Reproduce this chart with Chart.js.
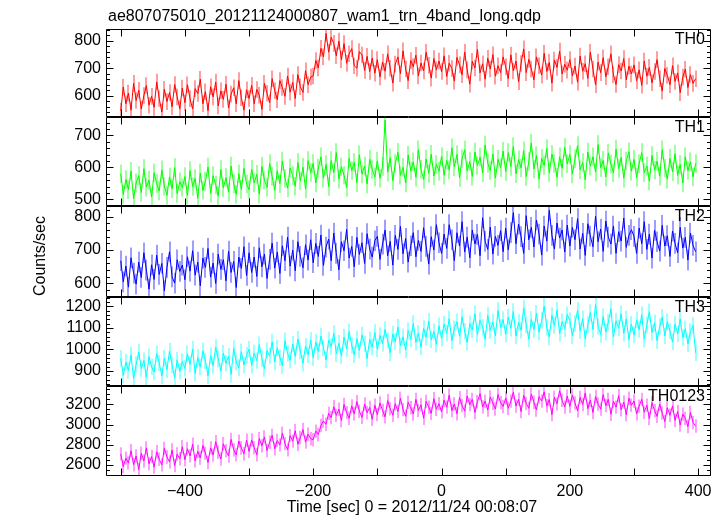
<!DOCTYPE html>
<html><head><meta charset="utf-8">
<script src="https://cdn.jsdelivr.net/npm/chart.js@4.4.1/dist/chart.umd.min.js"></script>
<style>
html,body{margin:0;padding:0;background:#fff;}
#wrap{position:relative;width:724px;height:516px;overflow:hidden;background:#fff;}
.layer{position:absolute;left:0;top:0;width:724px;height:516px;}
</style></head><body>
<div id="wrap"></div>
<script>
const plotTitle = "ae807075010_20121124000807_wam1_trn_4band_long.qdp";
const xAxisLabel = "Time [sec] 0 = 2012/11/24 00:08:07";
const yAxisLabel = "Counts/sec";
const bandNames = ["TH0", "TH1", "TH2", "TH3", "TH0123"];

const timeBins = [
-500,-496,-492,-488,-484,-480,-476,-472,-468,-464,-460,-456,-452,-448,-444,-440,-436,-432,-428,-424,-420,-416,-412,-408,-404,
-400,-396,-392,-388,-384,-380,-376,-372,-368,-364,-360,-356,-352,-348,-344,-340,-336,-332,-328,-324,-320,-316,-312,-308,-304,
-300,-296,-292,-288,-284,-280,-276,-272,-268,-264,-260,-256,-252,-248,-244,-240,-236,-232,-228,-224,-220,-216,-212,-208,-204,
-200,-196,-192,-188,-184,-180,-176,-172,-168,-164,-160,-156,-152,-148,-144,-140,-136,-132,-128,-124,-120,-116,-112,-108,-104,
-100,-96,-92,-88,-84,-80,-76,-72,-68,-64,-60,-56,-52,-48,-44,-40,-36,-32,-28,-24,-20,-16,-12,-8,-4,
0,4,8,12,16,20,24,28,32,36,40,44,48,52,56,60,64,68,72,76,80,84,88,92,96,
100,104,108,112,116,120,124,128,132,136,140,144,148,152,156,160,164,168,172,176,180,184,188,192,196,
200,204,208,212,216,220,224,228,232,236,240,244,248,252,256,260,264,268,272,276,280,284,288,292,296,
300,304,308,312,316,320,324,328,332,336,340,344,348,352,356,360,364,368,372,376,380,384,388,392,396
];

const th0 = [
545,632,571,610,548,645,583,620,552,601,637,566,598,558,650,590,541,624,579,612,560,641,596,553,628,
575,640,589,552,626,608,660,571,615,546,633,596,650,563,618,587,642,556,606,629,571,655,593,548,622,
590,638,571,623,602,551,645,609,575,662,618,586,655,630,598,672,613,648,590,677,633,612,691,640,668,
672,728,701,772,741,826,758,812,790,745,798,731,789,718,752,771,709,700,760,748,692,743,688,737,682,
731,668,722,689,752,700,646,715,741,680,763,697,655,728,706,747,672,719,690,758,711,664,735,694,726,
688,745,670,718,699,653,739,712,676,758,694,642,725,701,768,683,716,660,736,697,749,671,709,684,741,
705,662,748,690,726,651,717,770,684,732,697,658,741,709,675,754,688,721,646,730,703,762,679,714,693,
731,672,708,649,744,689,716,663,758,697,640,722,684,738,669,705,752,676,641,713,690,735,658,707,679,
712,655,694,638,726,671,703,647,688,731,662,617,699,674,640,709,652,683,611,668,696,630,677,645,662
];
const th1 = [
580,515,562,530,588,502,551,574,521,596,538,560,507,583,549,526,592,541,512,570,533,599,518,555,537,
571,512,590,540,565,503,582,528,556,601,519,574,545,510,593,536,568,522,604,549,515,580,531,597,548,
530,594,551,578,516,603,560,537,612,571,528,589,549,620,566,535,598,574,541,615,558,600,532,621,584,
612,551,598,633,566,609,540,621,584,646,563,602,575,537,628,590,615,552,639,579,604,548,625,593,570,
620,566,603,748,585,630,558,612,647,575,600,551,638,589,617,569,655,594,562,626,581,641,573,609,588,
634,575,622,592,661,601,640,568,627,655,589,618,571,648,606,632,583,670,613,590,642,566,625,599,651,
587,646,603,665,580,624,598,652,571,618,676,595,637,563,628,606,659,584,641,612,569,633,597,662,611,
640,579,627,668,592,615,561,648,604,633,585,671,599,622,570,645,610,583,657,596,631,566,620,649,588,
625,569,611,646,583,604,557,637,591,619,572,655,598,563,628,586,642,575,609,551,633,590,617,570,612
];
const th2 = [
668,605,652,589,677,631,598,664,618,692,640,583,656,612,685,627,660,578,648,695,620,601,671,636,655,
611,680,637,698,625,664,593,676,648,705,619,661,600,688,642,671,608,697,633,666,588,679,645,710,624,
692,633,679,621,707,650,688,615,672,721,646,694,630,713,668,739,652,700,638,725,681,647,716,670,731,
662,720,681,745,654,709,733,668,751,690,641,725,698,762,676,711,650,738,687,722,660,749,703,679,728,
741,672,718,760,683,726,655,744,702,771,689,735,664,713,752,680,729,696,767,711,658,740,700,776,722,
690,748,705,776,731,668,752,712,785,694,739,677,760,718,747,683,797,726,702,769,688,741,714,758,695,
766,701,752,812,719,778,740,690,803,731,768,709,790,748,685,772,727,819,744,703,781,736,760,694,775,
712,768,731,794,703,750,684,779,742,710,801,725,763,696,787,739,718,772,690,755,727,796,708,744,761,
741,690,766,719,785,702,748,676,759,725,697,774,712,743,681,757,720,692,768,706,738,670,751,714,695
];
const th3 = [
958,880,941,902,975,866,930,989,911,948,872,966,920,895,981,937,877,959,906,992,928,869,952,899,944,
912,980,931,1002,889,963,918,994,947,878,971,925,1010,956,899,983,936,969,884,1005,942,915,990,928,974,
1001,926,984,948,1022,957,911,995,970,1035,942,1008,963,925,1041,981,950,1026,968,1048,993,936,1017,975,1043,
962,1035,990,1062,1008,951,1044,1013,1075,981,1029,970,1058,1004,1083,1019,975,1050,996,1068,1027,958,1046,1011,1079,
1002,1065,1027,1093,1041,985,1072,1036,1104,1018,1059,997,1087,1049,1121,1033,1076,1011,1098,1057,1132,1045,1083,1024,1110,
1052,1118,1076,1143,1040,1097,1129,1061,1152,1085,1033,1120,1091,1166,1070,1135,1104,1048,1158,1088,1127,1064,1181,1102,1139,
1071,1150,1098,1177,1062,1126,1089,1193,1115,1048,1140,1093,1168,1080,1135,1201,1102,1057,1158,1111,1183,1074,1129,1096,1162,
1135,1064,1121,1182,1087,1143,1050,1116,1171,1093,1208,1108,1069,1152,1081,1127,1189,1058,1133,1099,1166,1075,1142,1046,1118,
1067,1138,1092,1161,1048,1115,1176,1079,1124,1041,1107,1150,1063,1129,1085,1034,1118,1072,1142,1055,1096,1026,1083,1112,985
];
const th0123 = [
2710,2585,2668,2621,2742,2603,2690,2555,2716,2640,2770,2612,2684,2579,2731,2657,2602,2765,2680,2631,2748,2594,2709,2662,2780,
2652,2761,2690,2805,2641,2735,2670,2792,2718,2625,2770,2698,2831,2727,2660,2810,2741,2689,2853,2750,2701,2836,2768,2712,2845,
2735,2848,2772,2702,2861,2790,2878,2744,2825,2893,2760,2842,2799,2915,2811,2750,2890,2836,2938,2805,2872,2951,2826,2905,2860,
2850,2935,2902,2990,3035,3002,3110,3068,3175,3090,3151,3040,3198,3117,3062,3184,3105,3226,3131,3070,3202,3116,3168,3051,3190,
3098,3212,3140,3075,3236,3155,3092,3205,3128,3260,3147,3081,3219,3166,3104,3248,3139,3195,3062,3228,3171,3110,3255,3150,3206,
3125,3240,3171,3290,3138,3202,3106,3265,3188,3132,3281,3196,3247,3119,3225,3305,3174,3230,3142,3272,3209,3153,3296,3216,3178,
3262,3160,3231,3318,3182,3250,3127,3289,3208,3160,3301,3219,3143,3274,3232,3322,3185,3246,3098,3268,3205,3334,3238,3172,3280,
3180,3291,3214,3135,3267,3198,3310,3157,3240,3118,3276,3203,3152,3295,3186,3248,3101,3230,3171,3284,3145,3222,3097,3259,3190,
3232,3105,3181,3248,3121,3190,3058,3215,3136,3080,3202,3112,3030,3165,3091,3184,3040,3128,2995,3102,3061,2980,3118,3020,2985
];
// typical 1-sigma error per band (counts/sec)
const bandErrors = [30, 29, 31, 38, 66];

const seriesList = [th0, th1, th2, th3, th0123];

// axis configuration
const xRange = [-523, 420];
const xMajorStep = 100, xLabelStep = 200;
const yMins = [525, 479, 561, 829, 2492];
const yMaxs = [842, 759, 832, 1246, 3377];
const yMajor = [100, 100, 100, 100, 200];
const yMinor = [20, 20, 20, 20, 50];

// layout / styles
const W = 724, H = 516;
const panelEdges = [29, 116.5, 206, 296.5, 386.3, 476];
const lineColors = ["#ff0000", "#00ff00", "#0000ff", "#00ffff", "#ff00ff"];
const errColors = ["rgba(255,0,0,0.38)", "rgba(0,255,0,0.38)", "rgba(0,0,255,0.38)", "rgba(0,255,255,0.38)", "rgba(255,0,255,0.38)"];
const FONT = '"Liberation Sans", Arial, Helvetica, sans-serif';
Chart.defaults.font.family = FONT;
Chart.defaults.font.size = 16;
Chart.defaults.color = '#000';

const fmt = v => String(v).replace('-', '\u2212');

const panelPlugin = {
  id: 'panel',
  beforeDatasetsDraw(chart, args, opts) {
    const i = opts.index;
    const {ctx, chartArea: a, scales: {x, y}} = chart;
    const s = seriesList[i], e = bandErrors[i];
    ctx.save();
    ctx.beginPath(); ctx.rect(a.left, a.top, a.right - a.left, a.bottom - a.top); ctx.clip();
    ctx.strokeStyle = errColors[i]; ctx.lineWidth = 2;
    ctx.beginPath();
    for (let k = 0; k < timeBins.length; k++) {
      const px = Math.round(x.getPixelForValue(timeBins[k]));
      ctx.moveTo(px, y.getPixelForValue(s[k] + e));
      ctx.lineTo(px, y.getPixelForValue(s[k] - e));
    }
    ctx.stroke();
    ctx.restore();
  },
  afterDatasetsDraw(chart, args, opts) {
    const i = opts.index;
    const {ctx, chartArea: a, scales: {x, y}} = chart;
    ctx.save();
    ctx.strokeStyle = '#000'; ctx.lineWidth = 1;
    const L = Math.round(a.left) + 0.5, R = Math.round(a.right) - 0.5;
    const T = Math.round(a.top) + 0.5, B = Math.round(a.bottom) - 0.5;
    ctx.beginPath();
    ctx.moveTo(L, T); ctx.lineTo(R, T); ctx.lineTo(R, B); ctx.lineTo(L, B); ctx.closePath();
    for (let v = Math.ceil(xRange[0] / xMajorStep) * xMajorStep; v <= xRange[1]; v += xMajorStep) {
      const px = Math.round(x.getPixelForValue(v)) + 0.5;
      ctx.moveTo(px, T); ctx.lineTo(px, T + 7);
      ctx.moveTo(px, B); ctx.lineTo(px, B - 7);
    }
    const mn = yMinor[i], mj = yMajor[i];
    for (let v = Math.ceil(yMins[i] / mn) * mn; v <= yMaxs[i]; v += mn) {
      const py = Math.round(y.getPixelForValue(v)) + 0.5;
      const len = (v % mj === 0) ? 7 : 3.5;
      ctx.moveTo(L, py); ctx.lineTo(L + len, py);
      ctx.moveTo(R, py); ctx.lineTo(R - len, py);
    }
    ctx.stroke();
    ctx.fillStyle = '#000';
    ctx.font = '16px ' + FONT;
    ctx.textAlign = 'right'; ctx.textBaseline = 'alphabetic';
    ctx.fillText(bandNames[i], a.right - 6, a.top + 15);
    if (i === 0) {
      ctx.textAlign = 'left';
      ctx.fillText(plotTitle, 108, 21);
    }
    if (i === 2) {
      ctx.save();
      ctx.translate(41, 256); ctx.rotate(-Math.PI / 2);
      ctx.textAlign = 'center'; ctx.textBaseline = 'middle';
      ctx.fillText(yAxisLabel, 0, 0);
      ctx.restore();
    }
    if (i === 4) {
      ctx.textAlign = 'center'; ctx.textBaseline = 'middle';
      ctx.fillText(xAxisLabel, 412, 508);
    }
    ctx.restore();
  }
};

function makePanel(i) {
  const div = document.createElement('div'); div.className = 'layer';
  const cv = document.createElement('canvas'); cv.width = W; cv.height = H;
  div.appendChild(cv);
  document.getElementById('wrap').appendChild(div);
  const isLast = i === seriesList.length - 1;
  const pts = timeBins.map((t, k) => ({x: t, y: seriesList[i][k]}));
  new Chart(cv, {
    type: 'line',
    data: {datasets: [{data: pts, borderColor: lineColors[i], borderWidth: 1, pointRadius: 0, tension: 0, fill: false}]},
    options: {
      responsive: false, animation: false, devicePixelRatio: 1, events: [],
      layout: {padding: {left: 0, right: W - 711, top: panelEdges[i], bottom: isLast ? 0 : H - panelEdges[i + 1]}},
      plugins: {legend: {display: false}, tooltip: {enabled: false}, title: {display: false}, panel: {index: i}},
      scales: {
        x: {type: 'linear', min: xRange[0], max: xRange[1], display: isLast,
            afterFit: s => { s.height = isLast ? H - panelEdges[5] : 0; },
            grid: {display: false, drawTicks: false}, border: {display: false},
            ticks: {stepSize: xLabelStep, includeBounds: false, padding: 6, maxRotation: 0, autoSkip: false, callback: v => fmt(v)}},
        y: {type: 'linear', min: yMins[i], max: yMaxs[i],
            afterFit: s => { s.width = 106; },
            grid: {display: false, drawTicks: false}, border: {display: false},
            ticks: {stepSize: yMajor[i], includeBounds: false, padding: 5, autoSkip: false, callback: v => fmt(v)}}
      }
    },
    plugins: [panelPlugin]
  });
}
for (let i = 0; i < seriesList.length; i++) makePanel(i);
</script>
</body></html>
